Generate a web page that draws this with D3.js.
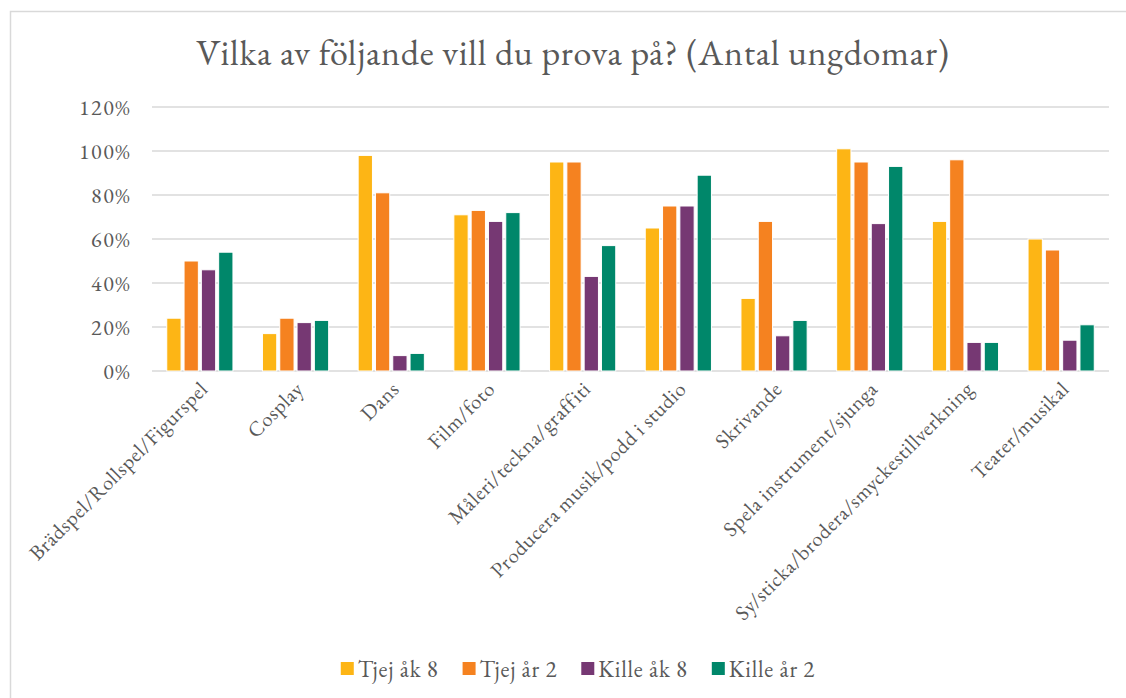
<!DOCTYPE html>
<html>
<meta charset="utf-8">
<title>Vilka av följande vill du prova på?</title>
<style>
  html, body {
    margin: 0;
    padding: 0;
    background: #fff;
  }
</style>
<body>
<div id="chart"></div>
<script src="https://d3js.org/d3.v7.min.js"></script>
<script>
// kategorier och serier (andel i procent)
var categories = [
  "Brädspel/Rollspel/Figurspel",
  "Cosplay",
  "Dans",
  "Film/foto",
  "Måleri/teckna/graffiti",
  "Producera musik/podd i studio",
  "Skrivande",
  "Spela instrument/sjunga",
  "Sy/sticka/brodera/smyckestillverkning",
  "Teater/musikal"
];
var seriesNames = ["Tjej åk 8", "Tjej år 2", "Kille åk 8", "Kille år 2"];
var tjejAk8  = [24, 17, 98, 71, 95, 65, 33, 101, 68, 60];
var tjejAr2  = [50, 24, 81, 73, 95, 75, 68, 95, 96, 55];
var killeAk8 = [46, 22, 7, 68, 43, 75, 16, 67, 13, 14];
var killeAr2 = [54, 23, 8, 72, 57, 89, 23, 93, 13, 21];
var yTicks = [0, 20, 40, 60, 80, 100, 120];
var colors = ["#fdb515", "#f58220", "#763873", "#00876a"];

var series = [tjejAk8, tjejAr2, killeAk8, killeAr2];

var FONT = "'EB Garamond', 'Liberation Serif', serif";
var GREY = "#595959";

var W = 1126, H = 698;
var margin = {top: 107, right: 17, bottom: 327, left: 152};
var width = W - margin.left - margin.right,
    height = H - margin.top - margin.bottom;

var svg = d3.select("#chart").append("svg")
    .attr("width", W)
    .attr("height", H);

// ram runt diagrammet
svg.append("rect")
    .attr("x", 10.5)
    .attr("y", 11.5)
    .attr("width", W + 20)
    .attr("height", H + 20)
    .attr("fill", "none")
    .attr("stroke", "#d9d9d9")
    .attr("stroke-width", 1.5);

svg.append("text")
    .attr("x", 573)
    .attr("y", 65)
    .attr("text-anchor", "middle")
    .style("font-family", FONT)
    .style("fill", GREY)
    .style("font-size", "36px")
    .style("letter-spacing", "0.7px")
    .text("Vilka av följande vill du prova på? (Antal ungdomar)");

var g = svg.append("g")
    .attr("transform", "translate(" + margin.left + "," + margin.top + ")");

var x0 = d3.scaleBand()
    .domain(categories)
    .range([0, width]);

var x1 = d3.scaleBand()
    .domain(d3.range(series.length))
    .range([-34.6, 34.6]);

var y = d3.scaleLinear()
    .domain([0, 120])
    .range([height, 0]);

// rutnät
g.append("g")
    .selectAll("line")
    .data(yTicks)
    .enter().append("line")
    .attr("x1", 0)
    .attr("x2", width)
    .attr("y1", function(d) { return y(d); })
    .attr("y2", function(d) { return y(d); })
    .style("stroke", "#d9d9d9")
    .style("stroke-width", 1.5);

// y-axelns etiketter
g.append("g")
    .selectAll("text")
    .data(yTicks)
    .enter().append("text")
    .attr("x", -21)
    .attr("y", function(d) { return y(d); })
    .attr("dy", "0.35em")
    .attr("text-anchor", "end")
    .style("font-family", FONT)
    .style("fill", GREY)
    .style("font-size", "22px")
    .style("letter-spacing", "1.5px")
    .text(function(d) { return d + "%"; });

// staplar
var group = g.append("g")
    .selectAll("g")
    .data(categories)
    .enter().append("g")
    .attr("transform", function(d) {
        return "translate(" + (x0(d) + x0.bandwidth() / 2) + ",0)";
    });

group.selectAll("rect")
    .data(function(d, i) {
        return series.map(function(s, k) { return {k: k, value: s[i]}; });
    })
    .enter().append("rect")
    .attr("x", function(d) { return x1(d.k) + 1.5; })
    .attr("width", x1.bandwidth() - 3)
    .attr("y", function(d) { return y(d.value); })
    .attr("height", function(d) { return height - y(d.value); })
    .attr("fill", function(d) { return colors[d.k]; })
    .style("stroke", "#fff")
    .style("stroke-width", 1);

// x-axelns etiketter, roterade
g.append("g")
    .selectAll("text")
    .data(categories)
    .enter().append("text")
    .attr("text-anchor", "end")
    .attr("transform", function(d) {
        return "translate(" + (x0(d) + x0.bandwidth() / 2 + 4) + "," + (height + 14) + ") rotate(-45)";
    })
    .attr("dy", "0.35em")
    .style("font-family", FONT)
    .style("fill", GREY)
    .style("font-size", "21px")
    .style("letter-spacing", "0.6px")
    .text(function(d) { return d; });

// förklaring
var legend = svg.append("g")
    .attr("transform", "translate(0,669)");

var items = legend.selectAll("g")
    .data(seriesNames)
    .enter().append("g");

items.append("rect")
    .attr("width", 13)
    .attr("height", 13)
    .attr("y", -7)
    .attr("fill", function(d, i) { return colors[i]; });

items.append("text")
    .attr("x", 17)
    .attr("dy", "0.35em")
    .style("font-family", FONT)
    .style("fill", GREY)
    .style("font-size", "23px")
    .style("letter-spacing", "0.8px")
    .text(function(d) { return d; });

var pos = 0, offsets = [];
items.each(function() {
    offsets.push(pos);
    pos += 17 + this.querySelector("text").getComputedTextLength() + 24;
});
var total = pos - 24;
items.attr("transform", function(d, i) {
    return "translate(" + (578 - total / 2 + offsets[i]) + ",0)";
});
</script>
</body>
</html>
